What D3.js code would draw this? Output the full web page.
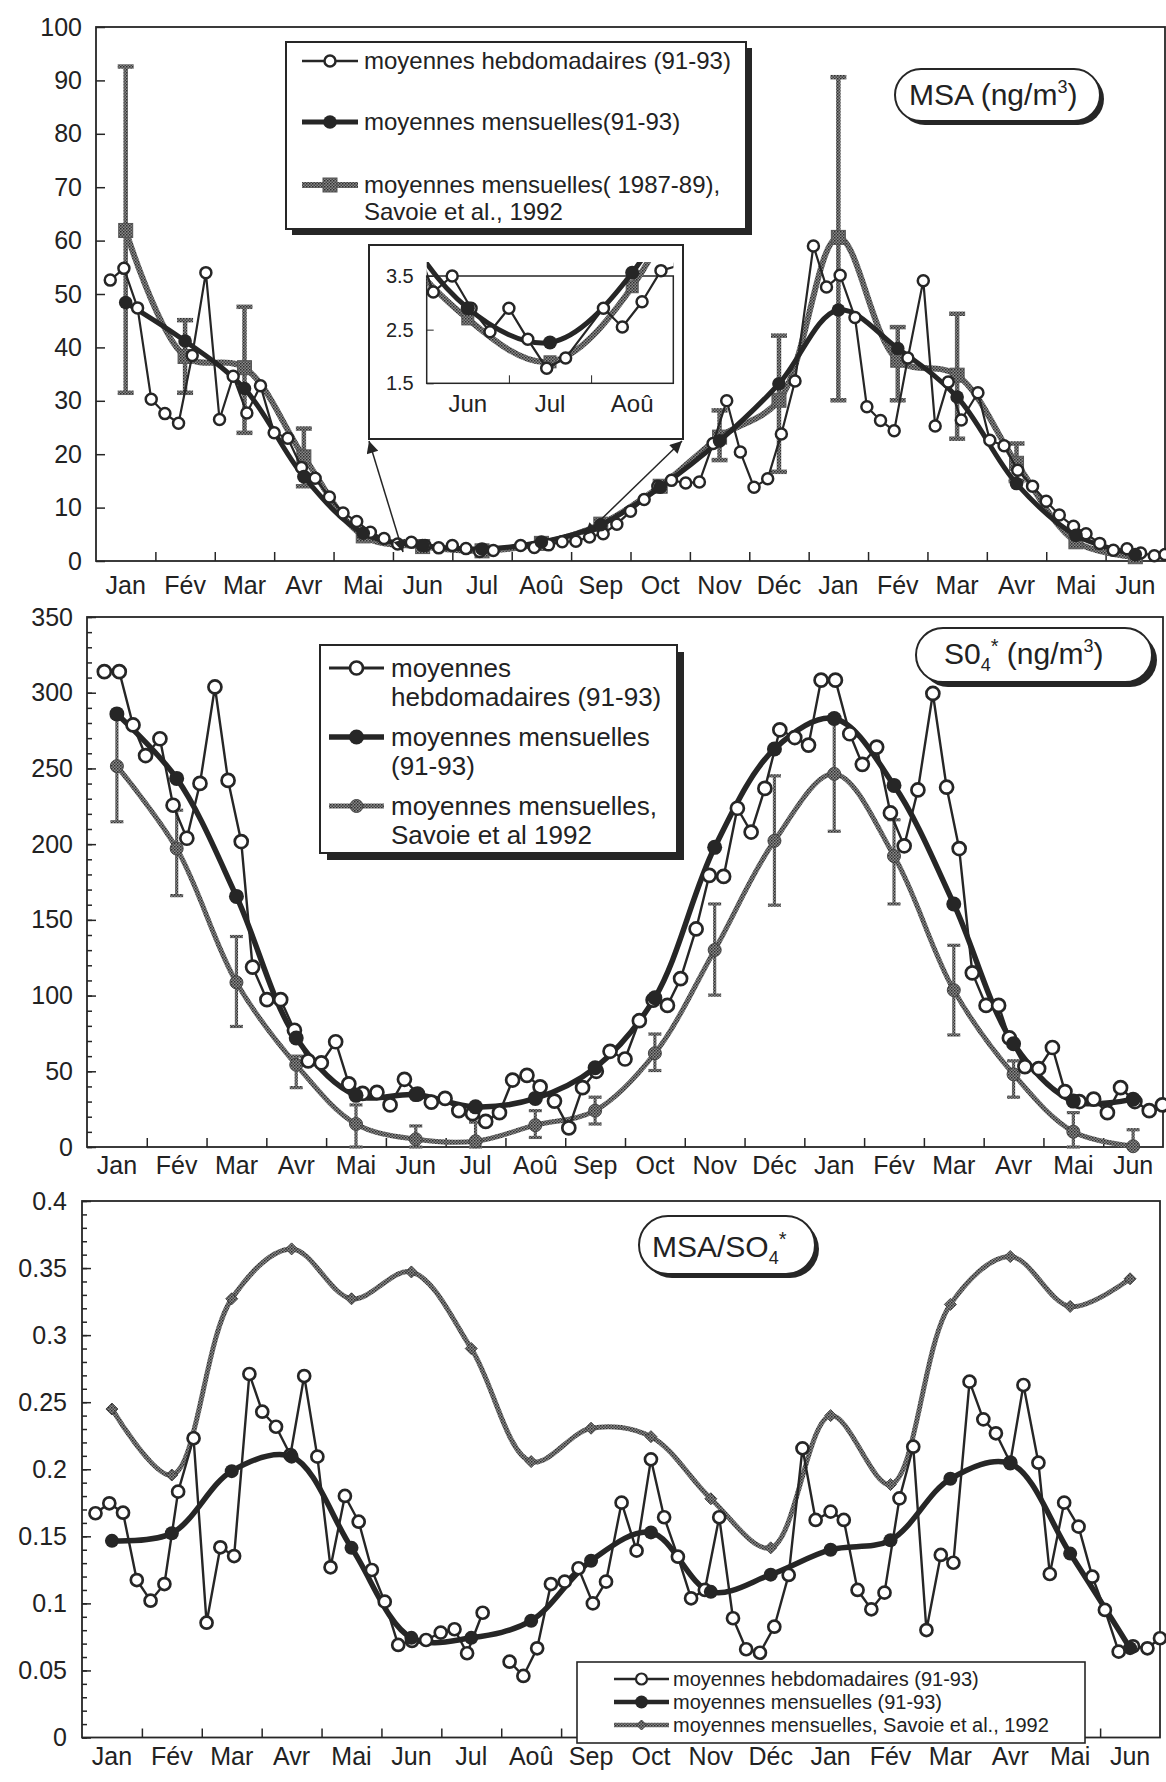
<!DOCTYPE html>
<html><head><meta charset="utf-8">
<script src="https://cdn.jsdelivr.net/npm/d3@7"></script>
<style>
body{margin:0;background:#fff}
svg{display:block}
text{font-family:"Liberation Sans",Arial,Helvetica,sans-serif;fill:#222}
</style></head>
<body><svg id="chart" width="1166" height="1782"></svg>
<script>
// ---------- DATA ----------
const monthLabels = ["Jan","Fév","Mar","Avr","Mai","Jun","Jul","Aoû","Sep","Oct","Nov","Déc","Jan","Fév","Mar","Avr","Mai","Jun"];

// MSA (ng/m3)
const msaWeekT = [0.24,0.47,0.70,0.93,1.16,1.39,1.62,1.85,2.08,2.31,2.54,2.77,3.00,3.23,3.46,3.69,3.93,4.16,4.39,4.62,4.85,5.08,5.31,5.54,5.77,6.00,6.23,6.46,6.69,7.15,7.38,7.62,7.85,8.08,8.31,8.54,8.77,9.00,9.23,9.46,9.69,9.93,10.16,10.39,10.62,10.85,11.08,11.31,11.54,11.77,12.08,12.30,12.53,12.78,12.98,13.21,13.44,13.67,13.93,14.13,14.35,14.57,14.85,15.05,15.29,15.52,15.77,16.00,16.22,16.46,16.67,16.90,17.13,17.36,17.59,17.82,18.0];
const msaWeekV = [52.6,54.8,47.4,30.3,27.6,25.8,38.5,54.0,26.5,34.6,27.7,32.8,24.0,23.0,17.5,15.5,12.0,9.0,7.4,5.4,4.2,3.2,3.5,2.9,2.46,2.9,2.32,1.78,1.97,2.9,2.55,3.02,3.6,3.7,4.5,5.1,6.9,9.3,11.5,14.0,15.1,14.6,14.8,22.0,30.0,20.4,13.8,15.4,23.8,33.7,59.0,51.3,53.5,45.6,28.9,26.3,24.4,38.0,52.5,25.3,33.5,26.4,31.5,22.6,21.6,17.0,14.0,11.2,8.6,6.5,5.1,3.3,2.0,2.3,1.5,1.0,1.2];
const msaMonthly = [48.4,41.2,32.3,15.8,5.2,2.9,2.26,3.56,6.8,13.8,22.5,33.2,47.0,39.8,30.7,14.5,4.8,1.2];
const msaSavoie = [61.9,38.3,36.2,19.5,4.7,2.7,1.9,3.3,6.9,14.0,23.2,30.1,60.6,37.6,34.8,18.3,3.6,0.8];
const msaSavLo = [31.5,31.5,24.0,14.0,null,null,null,null,null,null,18.9,16.7,30.1,30.1,22.9,15.0,null,null];
const msaSavHi = [92.6,45.1,47.6,24.8,null,null,null,null,null,null,28.2,42.2,90.6,43.8,46.3,22.0,null,null];

// SO4* (ng/m3)
const so4WeekT = [0.29,0.54,0.77,0.98,1.22,1.44,1.67,1.89,2.14,2.36,2.58,2.77,3.01,3.24,3.47,3.70,3.92,4.16,4.38,4.61,4.85,5.07,5.31,5.53,5.76,5.99,6.22,6.45,6.67,6.90,7.12,7.36,7.58,7.82,8.06,8.29,8.52,8.75,9.00,9.24,9.47,9.71,9.93,10.19,10.41,10.65,10.88,11.11,11.34,11.59,11.84,12.07,12.28,12.52,12.76,12.97,13.21,13.44,13.67,13.90,14.15,14.38,14.59,14.81,15.04,15.25,15.43,15.69,15.92,16.15,16.36,16.60,16.84,17.07,17.29,17.53,17.77,17.99];
const so4WeekV = [313.9,313.9,278.7,258.5,269.6,225.7,203.9,240.1,303.8,242.1,201.7,118.8,97.3,97.3,77.1,56.9,55.6,69.5,41.7,35.4,36.1,27.8,44.7,35,29.6,32.1,24.0,22,16.9,22.7,44.2,47.3,39.7,30.3,12.6,39.2,50,63.2,58.1,83.4,97,93.5,111.2,144.0,179.4,178.7,223.7,208,236.8,275.5,270.4,265.4,308.3,308.3,272.9,252.7,264.1,220.6,198.9,235.8,299.5,237.6,197.1,115.0,93.5,93.5,72.0,53.1,51.8,65.7,36.6,30,31.6,22.7,39.2,30,24.0,27.8];
const so4Monthly = [286,243.4,165.5,72.0,34.1,34.6,26.5,32.1,52.3,98.6,197.9,262.8,283,238.8,160.5,68.2,30.3,31.6];
const so4Savoie = [251.5,197.1,108.7,54.3,15.2,5.1,3.8,14.4,24,61.9,130.1,202.2,246.4,192.1,103.6,48,10.1,0.5];
const so4SavLo = [214.8,166,79.6,39.2,0,0,0,6.3,15.2,50.5,100.3,159.7,208.5,160.5,74,32.9,0,0];
const so4SavHi = [284,222.4,139,60,27.8,13.9,16.4,24,32.9,74.6,160.5,245.1,283,216.1,133.2,56.9,22.7,11.4];

// MSA/SO4*
const ratioWeekT = [0.225,0.456,0.685,0.915,1.145,1.376,1.605,1.863,2.08,2.31,2.54,2.795,3.01,3.24,3.48,3.71,3.93,4.15,4.39,4.62,4.84,5.055,5.28,5.51,5.745,5.99,6.22,6.43,6.69,6.92,7.14,7.37,7.60,7.83,8.06,8.29,8.53,8.75,9.01,9.26,9.50,9.72,9.95,10.17,10.40,10.64,10.87,11.09,11.32,11.56,11.80,12.03,12.25,12.50,12.72,12.95,13.18,13.40,13.65,13.88,14.10,14.34,14.55,14.82,15.05,15.26,15.50,15.72,15.97,16.16,16.40,16.64,16.87,17.08,17.31,17.55,17.79,18.0];
const ratioWeekV = [0.1672,0.1746,0.1676,0.1174,0.102,0.1144,0.1833,0.2231,0.0856,0.1418,0.1353,0.271,0.2429,0.2317,0.2106,0.2695,0.2094,0.1269,0.1801,0.1609,0.1249,0.1013,0.069,0.072,0.0727,0.0782,0.0807,0.0628,0.093,null,0.0565,0.0459,0.0665,0.1144,0.1162,0.1262,0.1,0.1162,0.1751,0.1393,0.2074,0.1642,0.1348,0.1038,0.11,0.1642,0.0889,0.0658,0.0632,0.0826,0.1212,0.2156,0.1622,0.1684,0.1622,0.11,0.0956,0.108,0.1783,0.2168,0.0801,0.1361,0.1303,0.2653,0.2372,0.2268,0.205,0.2628,0.2049,0.1219,0.1751,0.1572,0.1199,0.0951,0.064,0.068,0.0665,0.074];
const ratioMonthly = [0.1466,0.1523,0.1986,0.2094,0.1414,0.0743,0.0743,0.0871,0.1318,0.1529,0.1086,0.1214,0.14,0.1471,0.1929,0.2043,0.1371,0.0666];
const ratioSavoie = [0.2449,0.1957,0.3271,0.3643,0.3271,0.3471,0.29,0.2057,0.2306,0.2243,0.178,0.1414,0.24,0.1886,0.3229,0.3586,0.3214,0.342];

// ---------- DRAWING ----------
const INK = "#262626";
const FONT = '"Liberation Sans", Arial, Helvetica, sans-serif';
const svg = d3.select("#chart");
const defs = svg.append("defs");
const pat = defs.append("pattern").attr("id","dith").attr("width",3).attr("height",3).attr("patternUnits","userSpaceOnUse");
pat.append("rect").attr("width",3).attr("height",3).attr("fill","#8a8a8a");
pat.append("rect").attr("width",1.5).attr("height",1.5).attr("fill","#2e2e2e");
pat.append("rect").attr("x",1.5).attr("y",1.5).attr("width",1.5).attr("height",1.5).attr("fill","#454545");
defs.append("marker").attr("id","arr").attr("viewBox","0 0 10 10").attr("refX",10).attr("refY",5)
  .attr("markerUnits","userSpaceOnUse").attr("markerWidth",18).attr("markerHeight",12).attr("orient","auto-start-reverse")
  .append("path").attr("d","M0,0 L10,5 L0,10 z").attr("fill",INK);

const weekRows = (T,V) => T.map((t,i)=>({t, v:V[i]}));
const monthRows = (V) => V.map((v,i)=>({i, v}));

function buildPanel(o){
  const x = d3.scaleLinear().domain([0,18]).range([o.left,o.right]);
  const y = d3.scaleLinear().domain(o.yDomain).range([o.bottom,o.top]);
  const band = d3.scaleBand().domain(d3.range(18)).range([o.left,o.right]);
  const g = svg.append("g");
  const styleAxis = s => { s.select(".domain").remove(); s.attr("color",INK).attr("font-family",FONT).attr("font-size",o.fs);
    s.selectAll(".tick line").attr("stroke-width",1.5); s.selectAll("text").attr("fill","#222"); };
  if (o.minor) g.append("g").attr("transform",`translate(${o.left},0)`)
     .call(d3.axisLeft(y).tickValues(o.minor).tickSize(-5).tickFormat("")).call(styleAxis);
  g.append("g").attr("transform",`translate(${o.left},0)`)
     .call(d3.axisLeft(y).tickValues(o.major).tickSize(-9).tickPadding(o.yPad).tickFormat(o.fmt)).call(styleAxis);
  g.append("g").attr("transform",`translate(0,${o.bottom})`)
     .call(d3.axisBottom(x).tickValues(d3.range(1,18)).tickSize(-9).tickFormat("")).call(styleAxis);
  g.append("g").attr("transform",`translate(0,${o.bottom})`)
     .call(d3.axisBottom(band).tickSize(0).tickPadding(o.xPad).tickFormat(i=>monthLabels[i])).call(styleAxis);
  g.append("rect").attr("x",o.left).attr("y",o.top).attr("width",o.right-o.left).attr("height",o.bottom-o.top)
     .attr("fill","none").attr("stroke",INK).attr("stroke-width",1.8);
  return {x,y,band,g};
}

function drawSeries(g, x, y, band, S, st){
  const mx = i => band(i)+band.bandwidth()/2;
  const smooth = d3.curveCatmullRom.alpha(0.5);
  if (S.savLo){
    S.savoie.forEach((v,i)=>{
      if (S.savLo[i]==null) return;
      const xx = mx(i);
      g.append("line").attr("x1",xx).attr("x2",xx).attr("y1",y(S.savLo[i])).attr("y2",y(S.savHi[i]))
        .attr("stroke","url(#dith)").attr("stroke-width",st.errW);
      [S.savLo[i],S.savHi[i]].forEach(e=> g.append("line").attr("x1",xx-st.capW/2).attr("x2",xx+st.capW/2)
        .attr("y1",y(e)).attr("y2",y(e)).attr("stroke","url(#dith)").attr("stroke-width",st.errW));
    });
  }
  const sav = monthRows(S.savoie);
  g.append("path").datum(sav).attr("fill","none").attr("stroke","url(#dith)").attr("stroke-width",st.savW)
    .attr("d", d3.line().x(d=>mx(d.i)).y(d=>y(d.v)).curve(smooth));
  sav.forEach(d=>{
    const cx = mx(d.i), cy = y(d.v), s = st.savSize;
    if (st.savShape==="square") g.append("rect").attr("x",cx-s/2).attr("y",cy-s/2).attr("width",s).attr("height",s)
      .attr("fill","url(#dith)").attr("stroke","#555").attr("stroke-width",1);
    else if (st.savShape==="diamond") g.append("path").attr("d",`M${cx},${cy-s/2}L${cx+s/2},${cy}L${cx},${cy+s/2}L${cx-s/2},${cy}Z`)
      .attr("fill","url(#dith)").attr("stroke","#444").attr("stroke-width",1);
    else g.append("circle").attr("cx",cx).attr("cy",cy).attr("r",s/2).attr("fill","url(#dith)").attr("stroke","#444").attr("stroke-width",1);
  });
  const mon = monthRows(S.monthly);
  g.append("path").datum(mon).attr("fill","none").attr("stroke",INK).attr("stroke-width",st.monW)
    .attr("d", d3.line().x(d=>mx(d.i)).y(d=>y(d.v)).curve(smooth));
  const wk = weekRows(S.wkT, S.wkV);
  g.append("path").datum(wk).attr("fill","none").attr("stroke",INK).attr("stroke-width",st.wkW).attr("stroke-linejoin","round")
    .attr("d", d3.line().defined(d=>d.v!=null).x(d=>x(d.t)).y(d=>y(d.v)));
  g.selectAll(null).data(wk.filter(d=>d.v!=null)).join("circle").attr("cx",d=>x(d.t)).attr("cy",d=>y(d.v))
    .attr("r",st.wkR).attr("fill","#fff").attr("stroke",INK).attr("stroke-width",st.wkSW);
  g.selectAll(null).data(mon).join("circle").attr("cx",d=>mx(d.i)).attr("cy",d=>y(d.v))
    .attr("r",st.monR).attr("fill",INK);
}

function shadowBox(x0,y0,w,h,off,rx){
  svg.append("rect").attr("x",x0+off).attr("y",y0+off).attr("width",w).attr("height",h).attr("rx",rx||0).attr("fill",INK);
  svg.append("rect").attr("x",x0).attr("y",y0).attr("width",w).attr("height",h).attr("rx",rx||0)
    .attr("fill","#fff").attr("stroke",INK).attr("stroke-width",2);
}
function txt(x0,y0,s,fs){ return svg.append("text").attr("x",x0).attr("y",y0).attr("font-size",fs).text(s); }
function sample(x1,x2,yy,kind,st){
  const xm=(x1+x2)/2;
  if (kind==="wk"){ svg.append("line").attr("x1",x1).attr("x2",x2).attr("y1",yy).attr("y2",yy).attr("stroke",INK).attr("stroke-width",st.wkW+0.5);
    svg.append("circle").attr("cx",xm).attr("cy",yy).attr("r",st.wkR).attr("fill","#fff").attr("stroke",INK).attr("stroke-width",st.wkSW); }
  else if (kind==="mon"){ svg.append("line").attr("x1",x1).attr("x2",x2).attr("y1",yy).attr("y2",yy).attr("stroke",INK).attr("stroke-width",st.monW);
    svg.append("circle").attr("cx",xm).attr("cy",yy).attr("r",st.monR).attr("fill",INK); }
  else { svg.append("line").attr("x1",x1).attr("x2",x2).attr("y1",yy).attr("y2",yy).attr("stroke","url(#dith)").attr("stroke-width",st.savW);
    const s=st.savSize;
    if (st.savShape==="square") svg.append("rect").attr("x",xm-s/2).attr("y",yy-s/2).attr("width",s).attr("height",s).attr("fill","url(#dith)").attr("stroke","#555");
    else if (st.savShape==="diamond") svg.append("path").attr("d",`M${xm},${yy-s/2}L${xm+s/2},${yy}L${xm},${yy+s/2}L${xm-s/2},${yy}Z`).attr("fill","url(#dith)").attr("stroke","#444");
    else svg.append("circle").attr("cx",xm).attr("cy",yy).attr("r",s/2).attr("fill","url(#dith)").attr("stroke","#444"); }
}

// ===== Panel 1 : MSA =====
const st1 = {wkR:5.5, wkSW:2.5, wkW:2.2, monW:5, monR:6.8, savW:6, savSize:14, savShape:"square", errW:4.5, capW:16};
const P1 = buildPanel({left:96,right:1165,top:27,bottom:561,yDomain:[0,100],major:d3.range(0,101,10),fmt:d3.format("d"),yPad:14,xPad:15,fs:25});
drawSeries(P1.g,P1.x,P1.y,P1.band,{wkT:msaWeekT,wkV:msaWeekV,monthly:msaMonthly,savoie:msaSavoie,savLo:msaSavLo,savHi:msaSavHi},st1);

shadowBox(286,42,460,187,6);
sample(302,358,61,"wk",st1); txt(364,69,"moyennes hebdomadaires (91-93)",24);
sample(302,358,122,"mon",st1); txt(364,130,"moyennes mensuelles(91-93)",24);
sample(302,358,185,"sav",st1); txt(364,193,"moyennes mensuelles( 1987-89),",24);
txt(364,220,"Savoie et al., 1992",24);

shadowBox(895,69,205,52,4,26);
{ const t = txt(909,105,"MSA (ng/m",30); t.append("tspan").attr("dy",-12).attr("font-size",18).text("3"); t.append("tspan").attr("dy",12).text(")"); }

// inset
svg.append("rect").attr("x",369).attr("y",245).attr("width",314).attr("height",194).attr("fill","#fff").attr("stroke",INK).attr("stroke-width",2);
{
  const xi = d3.scaleLinear().domain([5,8]).range([426.7,673.3]);
  const yi = d3.scaleLinear().domain([1.5,3.5]).range([383.3,276]);
  const bi = d3.scaleBand().domain(d3.range(18)).range([xi(0),xi(18)]);
  defs.append("clipPath").attr("id","insetClip").append("rect").attr("x",426.7).attr("y",262).attr("width",246.6).attr("height",121.3);
  const gi = svg.append("g");
  gi.append("g").attr("transform","translate(426.7,0)").call(d3.axisLeft(yi).tickValues([1.5,2.5,3.5]).tickSize(-7).tickPadding(13).tickFormat(d3.format(".1f")))
    .call(s=>{s.select(".domain").remove(); s.attr("font-size",20).attr("font-family",FONT).attr("color",INK); s.selectAll("text").attr("fill","#222");});
  gi.append("g").attr("transform","translate(0,383.3)").call(d3.axisBottom(xi).tickValues([6,7]).tickSize(-8).tickFormat(""))
    .call(s=>{s.select(".domain").remove(); s.attr("color",INK);});
  gi.append("g").attr("transform","translate(0,383.3)").call(d3.axisBottom(bi).tickValues([5,6,7]).tickSize(0).tickPadding(12).tickFormat(i=>monthLabels[i]))
    .call(s=>{s.select(".domain").remove(); s.attr("font-size",24).attr("font-family",FONT).attr("color",INK); s.selectAll("text").attr("fill","#222");});
  gi.append("rect").attr("x",426.7).attr("y",276).attr("width",246.6).attr("height",107.3).attr("fill","none").attr("stroke",INK).attr("stroke-width",1.5);
  const gc = gi.append("g").attr("clip-path","url(#insetClip)");
  drawSeries(gc,xi,yi,bi,{wkT:msaWeekT,wkV:msaWeekV,monthly:msaMonthly,savoie:msaSavoie,savLo:null},
    {wkR:5.5, wkSW:2.5, wkW:2.2, monW:5, monR:7, savW:6, savSize:12, savShape:"square"});
}
svg.append("line").attr("x1",369).attr("y1",441).attr("x2",403).attr("y2",552).attr("stroke",INK).attr("stroke-width",1.5)
  .attr("marker-start","url(#arr)").attr("marker-end","url(#arr)");
svg.append("line").attr("x1",682).attr("y1",441).attr("x2",585).attr("y2",535).attr("stroke",INK).attr("stroke-width",1.5)
  .attr("marker-start","url(#arr)").attr("marker-end","url(#arr)");

// ===== Panel 2 : SO4* =====
const st2 = {wkR:6.5, wkSW:2.7, wkW:2.4, monW:5.5, monR:7.5, savW:5, savSize:13, savShape:"circle", errW:3.2, capW:13};
const P2 = buildPanel({left:87,right:1163,top:617,bottom:1147,yDomain:[0,350],major:d3.range(0,351,50),minor:d3.range(0,351,10),fmt:d3.format("d"),yPad:14,xPad:9,fs:25});
drawSeries(P2.g,P2.x,P2.y,P2.band,{wkT:so4WeekT,wkV:so4WeekV,monthly:so4Monthly,savoie:so4Savoie,savLo:so4SavLo,savHi:so4SavHi},st2);
shadowBox(320,645,357,208,7);
sample(329,384,668,"wk",st2); txt(391,677,"moyennes",26); txt(391,706,"hebdomadaires (91-93)",26);
sample(329,384,737,"mon",st2); txt(391,746,"moyennes mensuelles",26); txt(391,775,"(91-93)",26);
sample(329,384,806,"sav",st2); txt(391,815,"moyennes mensuelles,",26); txt(391,844,"Savoie et al 1992",26);
shadowBox(916,628,236,54,5,27);
{ const t = txt(944,664,"S0",30); t.append("tspan").attr("dy",7).attr("font-size",18).text("4");
  t.append("tspan").attr("dy",-18).attr("font-size",20).text("*"); t.append("tspan").attr("dy",11).text(" (ng/m");
  t.append("tspan").attr("dy",-12).attr("font-size",18).text("3"); t.append("tspan").attr("dy",12).text(")"); }

// ===== Panel 3 : MSA/SO4* =====
const st3 = {wkR:6, wkSW:2.7, wkW:2.4, monW:5.5, monR:7, savW:5, savSize:12, savShape:"diamond"};
const P3 = buildPanel({left:82,right:1160,top:1201,bottom:1737.5,yDomain:[0,0.4],major:d3.range(0,0.4001,0.05),minor:d3.range(0,0.4001,0.01),
  fmt:d=>String(+d.toFixed(2)),yPad:15,xPad:10,fs:25});
drawSeries(P3.g,P3.x,P3.y,P3.band,{wkT:ratioWeekT,wkV:ratioWeekV,monthly:ratioMonthly,savoie:ratioSavoie,savLo:null},st3);
shadowBox(639,1216,176,58,4,29);
{ const t = txt(652,1257,"MSA/SO",30); t.append("tspan").attr("dy",7).attr("font-size",18).text("4");
  t.append("tspan").attr("dy",-18).attr("font-size",20).text("*"); }
svg.append("rect").attr("x",577).attr("y",1662).attr("width",508).attr("height",81).attr("fill","#fff").attr("stroke",INK).attr("stroke-width",1.6);
sample(614,669,1679,"wk",{wkR:5.5,wkSW:2.2,wkW:2}); txt(673,1686,"moyennes hebdomadaires (91-93)",20);
sample(614,669,1702,"mon",{monW:4.5,monR:6.5}); txt(673,1709,"moyennes mensuelles (91-93)",20);
sample(614,669,1725,"sav",{savW:4.5,savSize:10,savShape:"diamond"}); txt(673,1732,"moyennes mensuelles, Savoie et al., 1992",20);
</script></body></html>
